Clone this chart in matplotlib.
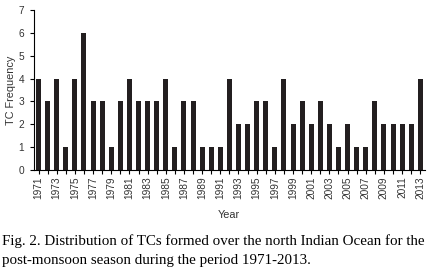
import numpy as np
import matplotlib
matplotlib.use("Agg")
import matplotlib.pyplot as plt

years = list(range(1971, 2014))
tc_freq = [4, 3, 4, 1, 4, 6, 3, 3, 1, 3,
           4, 3, 3, 3, 4, 1, 3, 3, 1, 1,
           1, 4, 2, 2, 3, 3, 1, 4, 2, 3,
           2, 3, 2, 1, 2, 1, 1, 3, 2, 2,
           2, 2, 4]
caption_1 = "Fig. 2. Distribution of TCs formed over the north Indian Ocean for the"
caption_2 = "post-monsoon season during the period 1971-2013."

fig = plt.figure(figsize=(4.3, 2.7), dpi=100)
ax = fig.add_axes([0.079, 0.370, 0.909, 0.593])

x = np.arange(len(years))
ax.bar(x, tc_freq, width=0.55, color="#231f20")

ax.set_xlim(-0.5, len(years) - 0.5)
ax.set_ylim(0, 7)
ax.set_yticks(range(0, 8))
ax.set_xticks(x)
ax.set_xticklabels([str(y) if (y - 1971) % 2 == 0 else "" for y in years],
                   rotation=90, fontsize=7.3, family="Liberation Sans", color="#333333")
ax.tick_params(axis="y", labelsize=7.3, length=3, width=0.8, labelcolor="#333333", pad=4)
ax.tick_params(axis="x", length=3, width=0.8, pad=1.5)
for lab in ax.get_yticklabels():
    lab.set_family("Liberation Sans")
ax.spines["top"].set_visible(False)
ax.spines["right"].set_visible(False)
ax.set_ylabel("TC Frequency", fontsize=7.8, family="Liberation Sans", labelpad=2,
              color="#333333")

fig.text(0.533, 0.204, "Year", fontsize=7.8, family="Liberation Sans",
         ha="center", va="center", color="#333333")
fig.text(0.004, 0.093, caption_1, fontsize=10.8, family="Liberation Serif",
         ha="left", va="baseline")
fig.text(0.004, 0.022, caption_2, fontsize=10.8, family="Liberation Serif",
         ha="left", va="baseline")

fig.savefig("out.png", dpi=100)
